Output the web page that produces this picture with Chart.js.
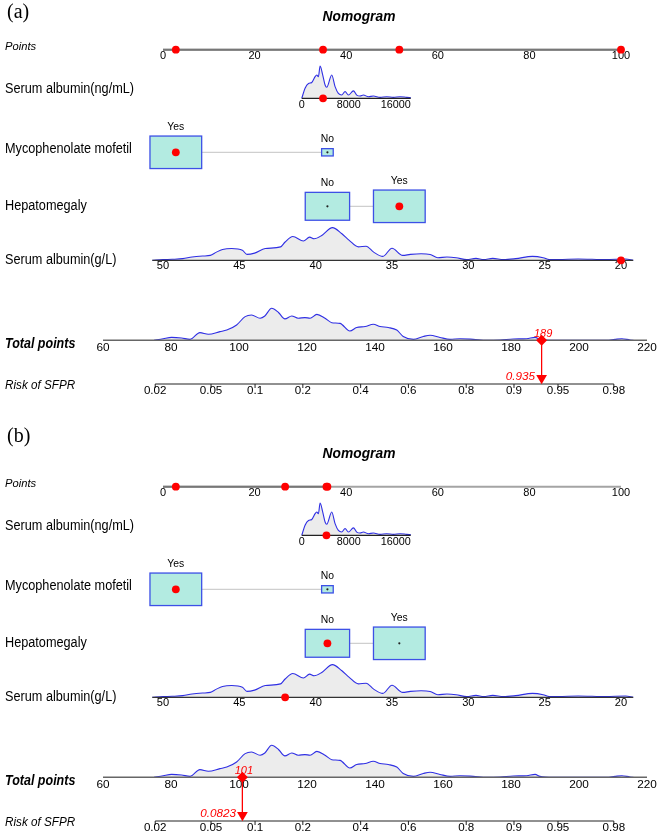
<!DOCTYPE html>
<html>
<head>
<meta charset="utf-8">
<script src="https://cdn.jsdelivr.net/npm/chart.js@4.4.1/dist/chart.umd.min.js"></script>
<style>
  html, body { margin: 0; padding: 0; background: #fff; overflow: hidden; }
  canvas { display: block; }
</style>
</head>
<body>
<canvas id="nomogram" width="660" height="834" style="width:660px;height:834px"></canvas>
<script>
// ---- data ----
var panelLabels = ["(a)", "(b)"];
var chartTitle = "Nomogram";
var variableNames = ["Points", "Serum albumin(ng/mL)", "Mycophenolate mofetil", "Hepatomegaly",
                     "Serum albumin(g/L)", "Total points", "Risk of SFPR"];

var pointsTicks = [0, 20, 40, 60, 80, 100];

// Serum albumin(ng/mL): value -> points
var albNgTicks = [0, 8000, 16000];
var albNgRange = [0, 18550];
var albNgAnchor = [0, 8000];
var albNgAnchorPts = [30.3, 40.56];
var albNgDensX = [0, 560, 1150, 1700, 2270, 2550, 2830, 3120, 3570, 3970, 4250, 5100, 5670, 6230, 6800,
                  7370, 7940, 8790, 9360, 9930, 10490, 11340, 12190, 13330, 14460, 15600, 16730, 17870, 18550];
var albNgDensY = [0, 31, 46, 49, 67, 72, 67, 100, 72, 41, 34, 72, 36, 15, 10,
                  21, 10, 23, 10, 7, 10, 5, 7, 3, 5, 3, 5, 3, 2];

// Mycophenolate mofetil
var mycoLevels = ["Yes", "No"];
var mycoPoints = [2.8, 35.9];
var mycoFreq = [0.952, 0.048];

// Hepatomegaly
var hepLevels = ["No", "Yes"];
var hepPoints = [35.9, 51.6];
var hepFreq = [0.424, 0.576];

// Serum albumin(g/L): value -> points
var albGTicks = [50, 45, 40, 35, 30, 25, 20];
var albGRange = [50.7, 19.2];
var albGAnchor = [50, 20];
var albGAnchorPts = [0, 100];
var albGDensX = [50.7, 50, 49.4, 48.7, 48.1, 47.4, 46.9, 46.5, 46.1, 45.5, 44.8, 44.5, 44.0, 43.3, 42.3,
                 42.0, 41.5, 40.8, 40.4, 40.1, 39.6, 38.9, 38.3, 37.8, 37.2, 36.7, 36.2, 35.6, 35.0, 34.3,
                 33.8, 33.1, 32.5, 32.0, 31.4, 30.8, 30.1, 29.5, 29.0, 28.4, 27.7, 26.9, 25.8, 25.1, 24.7,
                 24.1, 22.8, 21.9, 21.0, 19.7, 19.2];
var albGDensY = [0, 2, 3, 5, 10, 13, 15, 25, 33, 36, 31, 18, 22, 36, 41,
                 56, 73, 59, 71, 66, 76, 100, 82, 61, 41, 43, 25, 12, 37, 15,
                 18, 20, 18, 8, 10, 8, 2, 6, 2, 6, 2, 5, 12, 8, 2,
                 2, 4, 3, 2, 4, 0];

// Total points
var totalTicks = [60, 80, 100, 120, 140, 160, 180, 200, 220];
var totalDensX = [75.0, 77.7, 80.2, 83.1, 85.6, 88.5, 91.0, 94.4, 96.4, 99.3, 101.8, 103.7, 106.2, 107.6, 109.6,
                  111.6, 113.5, 115.5, 117.4, 119.4, 120.9, 122.9, 125.3, 127.3, 129.7, 132.6, 134.6, 137.1,
                  139.5, 141.5, 143.9, 146.4, 148.3, 151.3, 154.2, 156.2, 159.1, 162.1, 165.0, 168.9, 172.9,
                  176.8, 180.7, 184.6, 187.1, 188.5, 192.4, 198.3, 208.1, 210.6, 212.6, 215.0, 216.0];
var totalDensY = [0, 5, 9, 7, 3, 24, 19, 27, 32, 48, 74, 79, 69, 76, 100,
                  87, 67, 76, 69, 71, 69, 81, 69, 55, 53, 29, 40, 43,
                  50, 43, 40, 32, 12, 3, 12, 16, 9, 3, 5, 3, 0,
                  1, 4, 5, 9, 3, 0, 0, 0, 3, 5, 1, 0];

// Risk of SFPR: total points = intercept + slope * logit(risk)
var riskTicks = [0.02, 0.05, 0.1, 0.2, 0.4, 0.6, 0.8, 0.9, 0.95, 0.98];
var riskIntercept = 142.8;
var riskSlope = 17.33;

// the two patients shown in (a) and (b)
var caseAlbNg = [3620, 4200];
var caseMyco = ["Yes", "Yes"];
var caseHep = ["Yes", "No"];
var caseAlbG = [20, 42.0];
var caseTotal = [189, 101];
var caseRisk = [0.935, 0.0823];

// ---- layout ----
var W = 660, H = 834;
var layout = {
    ptsPx: [163, 621],     // where Points 0 and 100 sit
    totPx: [103, 647],     // where Total points 60 and 220 sit
    shift: 437,            // vertical offset of panel (b)
    labelX: 5,
    rows: { points: 49.7, albNg: 98.3, myco: 152.3, hep: 206.3, albG: 260.3, total: 340.3, risk: 384 },
    labelY: [46.7, 89.3, 149, 206, 260, 344.3, 385.3],
    densPeak: { albNg: 32.3, albG: 32.7, total: 32 },
    boxMax: [51.7, 32.5],
    panelLabelY: [12.5, 0],
    titleX: 359, titleY: 17.3
};
var SANS = '"Liberation Sans", Arial, sans-serif';
var SERIF = '"Liberation Serif", "Times New Roman", serif';
var labelFonts = ["italic 11.2px", "12.7px", "12.7px", "12.7px", "12.7px", "bold italic 12.5px", "italic 11.7px"];
var labelStretch = [1.05, 1.12, 1.12, 1.12, 1.12, 1.1, 1.03];

function lin(v, from, to) {
    return to[0] + (v - from[0]) * (to[1] - to[0]) / (from[1] - from[0]);
}
function ngPts(v) { return lin(v, albNgAnchor, albNgAnchorPts); }
function gPts(v) { return lin(v, albGAnchor, albGAnchorPts); }
function riskTot(p) { return riskIntercept + riskSlope * Math.log(p / (1 - p)); }
function same(v) { return v; }
function levelPts(levels, pts, lev) { return pts[levels.indexOf(lev)]; }

// scale ranges so that the full canvas width is the chart area
var ptsPerPx = 100 / (layout.ptsPx[1] - layout.ptsPx[0]);
var xMin = -layout.ptsPx[0] * ptsPerPx, xMax = xMin + W * ptsPerPx;
var totPerPx = (totalTicks[totalTicks.length - 1] - totalTicks[0]) / (layout.totPx[1] - layout.totPx[0]);
var tMin = totalTicks[0] - layout.totPx[0] * totPerPx, tMax = tMin + W * totPerPx;

// ---- datasets ----
var datasets = [];
var densityCount = 0;
panelLabels.forEach(function (lab, p) {
    var o = p * layout.shift, r = layout.rows;

    function dens(xv, yv, toX, row, peak, axis) {
        densityCount++;
        datasets.push({
            kind: "density", type: "line", xAxisID: axis,
            data: xv.map(function (v, i) { return { x: toX(v), y: o + row - yv[i] * peak / 100 }; }),
            borderColor: "#2f2fe4", borderWidth: 1.1, backgroundColor: "#ececec",
            fill: { value: o + row }, pointRadius: 0, cubicInterpolationMode: "monotone", order: 2
        });
    }
    dens(albNgDensX, albNgDensY, ngPts, r.albNg, layout.densPeak.albNg, "x");
    dens(albGDensX, albGDensY, gPts, r.albG, layout.densPeak.albG, "x");
    dens(totalDensX, totalDensY, same, r.total, layout.densPeak.total, "xTot");

    var pNg = ngPts(caseAlbNg[p]);
    var pMy = levelPts(mycoLevels, mycoPoints, caseMyco[p]);
    var pHe = levelPts(hepLevels, hepPoints, caseHep[p]);
    var pG = gPts(caseAlbG[p]);

    // small dots in the boxes that are not chosen
    var idle = [];
    mycoLevels.forEach(function (l, i) { if (l !== caseMyco[p]) idle.push({ x: mycoPoints[i], y: o + r.myco }); });
    hepLevels.forEach(function (l, i) { if (l !== caseHep[p]) idle.push({ x: hepPoints[i], y: o + r.hep }); });
    datasets.push({
        type: "line", showLine: false, xAxisID: "x", data: idle,
        pointRadius: 1.1, pointBackgroundColor: "#222", pointBorderWidth: 0, order: 1
    });

    datasets.push({
        type: "line", showLine: false, xAxisID: "x",
        data: [
            { x: pNg, y: o + r.points }, { x: pMy, y: o + r.points }, { x: pHe, y: o + r.points }, { x: pG, y: o + r.points },
            { x: pNg, y: o + r.albNg }, { x: pMy, y: o + r.myco }, { x: pHe, y: o + r.hep }, { x: pG, y: o + r.albG }
        ],
        pointRadius: 3.9, pointBackgroundColor: "#ff0000", pointBorderWidth: 0, order: 0
    });

    // total points -> risk
    var tRisk = riskTot(caseRisk[p]);
    datasets.push({
        type: "line", showLine: true, xAxisID: "xTot",
        data: [{ x: caseTotal[p], y: o + r.total }, { x: caseTotal[p], y: o + r.risk - 8 }],
        borderColor: "#ff0000", borderWidth: 1, pointRadius: 0, fill: false, order: 1
    });
    datasets.push({
        type: "line", showLine: false, xAxisID: "xTot",
        data: [{ x: caseTotal[p], y: o + r.total }],
        pointStyle: "rectRot", pointRadius: 5.5, pointBackgroundColor: "#ff0000", pointBorderWidth: 0, order: 0
    });
    datasets.push({
        type: "line", showLine: false, xAxisID: "xTot",
        data: [{ x: tRisk, y: o + r.risk - 6 }],
        pointStyle: "triangle", pointRotation: 180, pointRadius: 6.2,
        pointBackgroundColor: "#ff0000", pointBorderWidth: 0, order: 0
    });
});

// ---- drawing of axes, boxes and texts ----
function txt(ctx, s, x, y, font, align, color, stretch) {
    ctx.save();
    ctx.font = font;
    ctx.textAlign = align || "left";
    ctx.textBaseline = "middle";
    ctx.fillStyle = color || "#000";
    ctx.translate(x, y);
    ctx.scale(1, stretch || 1);
    ctx.fillText(s, 0, 0);
    ctx.restore();
}
function hline(ctx, x1, x2, y, color, w) {
    ctx.beginPath();
    ctx.strokeStyle = color;
    ctx.lineWidth = w;
    ctx.moveTo(x1, y);
    ctx.lineTo(x2, y);
    ctx.stroke();
}

function drawBoxes(ctx, xs, levels, pts, freq, yc) {
    var fmax = Math.max.apply(null, freq);
    var boxes = levels.map(function (l, i) {
        var k = Math.sqrt(freq[i] / fmax);
        var cx = xs.getPixelForValue(pts[i]);
        return { l: l, cx: cx, w: layout.boxMax[0] * k, h: layout.boxMax[1] * k };
    });
    boxes.sort(function (a, b) { return a.cx - b.cx; });
    hline(ctx, boxes[0].cx + boxes[0].w / 2, boxes[boxes.length - 1].cx - boxes[boxes.length - 1].w / 2, yc, "#c4c4c4", 1);
    boxes.forEach(function (b) {
        ctx.fillStyle = "#b3ebe1";
        ctx.fillRect(b.cx - b.w / 2, yc - b.h / 2, b.w, b.h);
        ctx.strokeStyle = "#3d50e6";
        ctx.lineWidth = 1.3;
        ctx.strokeRect(b.cx - b.w / 2, yc - b.h / 2, b.w, b.h);
        txt(ctx, b.l, b.cx, yc - b.h / 2 - 9.5, "10.4px " + SANS, "center", "#000", 1.1);
    });
}

function drawFrame(chart) {
    var ctx = chart.ctx;
    var xs = chart.scales.x, xt = chart.scales.xTot, ys = chart.scales.y;
    var r = layout.rows;
    ctx.save();
    panelLabels.forEach(function (lab, p) {
        var o = p * layout.shift;
        function Y(v) { return ys.getPixelForValue(o + v); }

        txt(ctx, lab, 7, Y(layout.panelLabelY[p]), "20px " + SERIF);
        txt(ctx, chartTitle, layout.titleX, Y(layout.titleY), "bold italic 13.8px " + SANS, "center", "#000", 1.08);
        variableNames.forEach(function (n, i) {
            txt(ctx, n, layout.labelX, Y(layout.labelY[i]), labelFonts[i] + " " + SANS, "left", "#000", labelStretch[i]);
        });

        // Points axis: darker up to the largest points used
        var used = [ngPts(caseAlbNg[p]), levelPts(mycoLevels, mycoPoints, caseMyco[p]),
                    levelPts(hepLevels, hepPoints, caseHep[p]), gPts(caseAlbG[p])];
        var hi = Math.max.apply(null, used);
        hline(ctx, xs.getPixelForValue(0), xs.getPixelForValue(100), Y(r.points), "#a4a4a4", 2);
        hline(ctx, xs.getPixelForValue(0), xs.getPixelForValue(hi), Y(r.points), "#777", 2);
        pointsTicks.forEach(function (t) {
            txt(ctx, String(t), xs.getPixelForValue(t), Y(r.points + 6.6), "11px " + SANS, "center");
        });

        // Serum albumin(ng/mL)
        hline(ctx, xs.getPixelForValue(ngPts(albNgRange[0])), xs.getPixelForValue(ngPts(albNgRange[1])), Y(r.albNg), "#222", 1.3);
        albNgTicks.forEach(function (t) {
            txt(ctx, String(t), xs.getPixelForValue(ngPts(t)), Y(r.albNg + 6.3), "10.8px " + SANS, "center");
        });

        // categorical rows
        drawBoxes(ctx, xs, mycoLevels, mycoPoints, mycoFreq, Y(r.myco));
        drawBoxes(ctx, xs, hepLevels, hepPoints, hepFreq, Y(r.hep));

        // Serum albumin(g/L)
        hline(ctx, xs.getPixelForValue(gPts(albGRange[0])), xs.getPixelForValue(gPts(albGRange[1])), Y(r.albG), "#333", 1.3);
        albGTicks.forEach(function (t) {
            txt(ctx, String(t), xs.getPixelForValue(gPts(t)), Y(r.albG + 5.8), "11.1px " + SANS, "center");
        });

        // Total points
        hline(ctx, xt.getPixelForValue(totalTicks[0]), xt.getPixelForValue(totalTicks[totalTicks.length - 1]), Y(r.total), "#666", 1.6);
        totalTicks.forEach(function (t) {
            txt(ctx, String(t), xt.getPixelForValue(t), Y(r.total + 7), "11.8px " + SANS, "center");
        });

        // Risk of SFPR
        hline(ctx, xt.getPixelForValue(riskTot(riskTicks[0])), xt.getPixelForValue(riskTot(riskTicks[riskTicks.length - 1])), Y(r.risk), "#222", 1);
        riskTicks.forEach(function (t) {
            var px = xt.getPixelForValue(riskTot(t));
            ctx.beginPath();
            ctx.strokeStyle = "#222";
            ctx.lineWidth = 1;
            ctx.moveTo(px, Y(r.risk));
            ctx.lineTo(px, Y(r.risk + 4));
            ctx.stroke();
            txt(ctx, String(t), px, Y(r.risk + 6.4), "11.6px " + SANS, "center");
        });
    });
    ctx.restore();
}

function drawValueLabels(chart) {
    var ctx = chart.ctx;
    var xt = chart.scales.xTot, ys = chart.scales.y;
    ctx.save();
    panelLabels.forEach(function (lab, p) {
        var o = p * layout.shift;
        txt(ctx, String(caseTotal[p]), xt.getPixelForValue(caseTotal[p]) + 1.5,
            ys.getPixelForValue(o + layout.rows.total - 6.5), "italic 11px " + SANS, "center", "#ff0000");
        txt(ctx, String(caseRisk[p]), xt.getPixelForValue(riskTot(caseRisk[p])) - 6.5,
            ys.getPixelForValue(o + layout.rows.risk - 7.3), "italic 11.7px " + SANS, "right", "#ff0000");
    });
    ctx.restore();
}

var densDrawn = 0;
var nomogramPlugin = {
    id: "nomogramFrame",
    beforeDatasetsDraw: function () { densDrawn = 0; },
    afterDatasetDraw: function (chart, args) {
        if (chart.data.datasets[args.index].kind !== "density") return;
        densDrawn++;
        if (densDrawn === densityCount) drawFrame(chart);
    },
    afterDatasetsDraw: function (chart) { drawValueLabels(chart); }
};

new Chart(document.getElementById("nomogram").getContext("2d"), {
    type: "line",
    data: { datasets: datasets },
    options: {
        responsive: false,
        maintainAspectRatio: false,
        animation: false,
        events: [],
        layout: { padding: 0, autoPadding: false },
        plugins: { legend: { display: false }, tooltip: { enabled: false }, title: { display: false } },
        scales: {
            x: { type: "linear", min: xMin, max: xMax, bounds: "data", display: false },
            xTot: { type: "linear", axis: "x", position: "bottom", min: tMin, max: tMax, bounds: "data", display: false },
            y: { type: "linear", min: 0, max: H, reverse: true, bounds: "data", display: false }
        }
    },
    plugins: [nomogramPlugin]
});
</script>
</body>
</html>
